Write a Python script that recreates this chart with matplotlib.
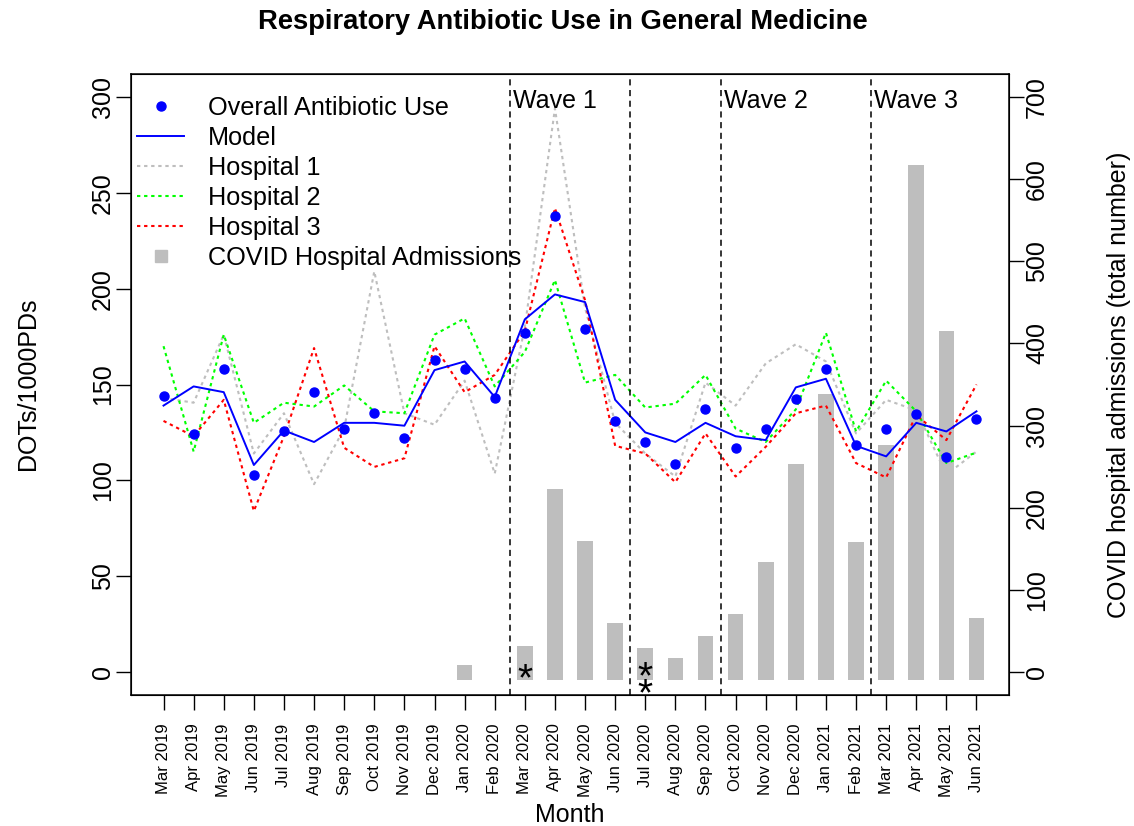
import numpy as np
import matplotlib
matplotlib.use("Agg")
import matplotlib.pyplot as plt
from matplotlib.lines import Line2D

plt.rcParams['font.family'] = ['Liberation Sans', 'DejaVu Sans']

months = ['Mar 2019', 'Apr 2019', 'May 2019', 'Jun 2019', 'Jul 2019', 'Aug 2019',
          'Sep 2019', 'Oct 2019', 'Nov 2019', 'Dec 2019', 'Jan 2020', 'Feb 2020',
          'Mar 2020', 'Apr 2020', 'May 2020', 'Jun 2020', 'Jul 2020', 'Aug 2020',
          'Sep 2020', 'Oct 2020', 'Nov 2020', 'Dec 2020', 'Jan 2021', 'Feb 2021',
          'Mar 2021', 'Apr 2021', 'May 2021', 'Jun 2021']

overall = [144, 124, 158, 103, 126, 146, 127, 135, 122, 163, 158, 143,
           177, 238, 179, 131, 120, 108.5, 137, 117, 127, 142.5, 158, 118.5,
           127, 134.5, 112, 132]
model = [139, 149, 146, 108, 126, 120, 130, 130, 128.5, 157.5, 162, 143.5,
         184, 197, 193, 142, 125, 120, 130, 123, 121, 148.5, 153, 118,
         112.5, 130, 125.5, 136]
hosp1 = [143, 140.5, 176, 114, 135, 98, 127, 209, 135, 129, 152, 103.5,
         180, 294, 190, 130, 114, 102, 151, 139, 161, 171, 162, 124.5,
         142, 136.5, 103, 115]
hosp2 = [170, 115, 176, 130, 140.5, 138.5, 149.5, 136, 135, 176, 184.5, 149,
         167, 204.5, 151, 155, 138, 140, 155, 127, 120, 137, 177, 125.5,
         152, 136, 109, 114.5]
hosp3 = [131, 123, 142, 84, 123, 169, 117, 107, 111.5, 170, 146, 155,
         178, 242, 194, 118, 114, 99, 124.5, 102, 117.5, 135, 139, 109,
         101.5, 134, 121, 150]
admissions = [0, 0, 0, 0, 0, 0, 0, 0, 0, 0, 9, 0,
              32, 223, 159, 60, 29, 17, 44, 71, 134, 253, 338, 158,
              276, 617, 415, 66]

# dashed lines fall between a month and the next one
wave_breaks = ['Feb 2020', 'Jun 2020', 'Sep 2020', 'Feb 2021']
wave_labels = {'Feb 2020': 'Wave 1', 'Sep 2020': 'Wave 2', 'Feb 2021': 'Wave 3'}

fig = plt.figure(figsize=(11.34, 8.26), dpi=100)
ax = fig.add_axes([131/1134, 131/826, 878/1134, 621/826])
ax2 = ax.twinx()
ax.set_zorder(ax2.get_zorder() + 1)
ax.patch.set_visible(False)

x = np.arange(len(months))
adm = np.array(admissions, dtype=float)
has = adm > 0
ax2.bar(x[has], adm[has] + 10, bottom=-10, width=0.52, color='#BEBEBE', zorder=1)
ax2.set_ylim(-28, 728)
ax2.set_yticks(range(0, 701, 100))
ax2.tick_params(axis='y', length=10.5, width=1, labelsize=18, labelrotation=90, pad=1)
for lab in ax2.get_yticklabels():
    lab.set_va('center')

dots = (0, (1.6, 1.8))
ax.plot(x, hosp1, color='#BEBEBE', ls=dots, lw=1.5)
ax.plot(x, hosp2, color='#00FF00', ls=dots, lw=1.5)
ax.plot(x, hosp3, color='#FF0000', ls=dots, lw=1.5)
ax.plot(x, model, color='#0000FF', lw=1.4)
ax.plot(x, overall, 'o', color='#0000FF', ms=6.5)

for m in wave_breaks:
    xb = months.index(m) + 0.5
    ax.axvline(xb, color='black', ls=(0, (4, 3)), lw=1.1)
    if m in wave_labels:
        ax.text(xb + 0.1, 298, wave_labels[m], fontsize=18, ha='left', va='center')

# significance marks near the zero line
ax.annotate('*', xy=(months.index('Mar 2020'), 0), xytext=(0, -13.5),
            textcoords='offset points', ha='center', va='baseline', fontsize=28)
for off in (-11.5, -23.8):
    ax.annotate('*', xy=(months.index('Jul 2020'), 0), xytext=(0, off),
                textcoords='offset points', ha='center', va='baseline', fontsize=28)

ax.set_xlim(-1.08, len(months) - 1 + 1.08)
ax.set_ylim(-12, 312)
ax.set_yticks(range(0, 301, 50))
ax.tick_params(axis='y', length=10.5, width=1, labelsize=18, labelrotation=90, pad=1)
for lab in ax.get_yticklabels():
    lab.set_va('center')
ax.set_xticks(x, months, rotation=90, fontsize=12)
ax.tick_params(axis='x', length=10.5, width=1, pad=10)
for sp in ax.spines.values():
    sp.set_linewidth(1.1)

handles = [
    Line2D([], [], ls='none', marker='o', color='#0000FF', ms=6.5),
    Line2D([], [], color='#0000FF', lw=1.4),
    Line2D([], [], color='#BEBEBE', ls=dots, lw=1.5),
    Line2D([], [], color='#00FF00', ls=dots, lw=1.5),
    Line2D([], [], color='#FF0000', ls=dots, lw=1.5),
    Line2D([], [], ls='none', marker='s', color='#BEBEBE', ms=8),
]
labels = ['Overall Antibiotic Use', 'Model', 'Hospital 1', 'Hospital 2',
          'Hospital 3', 'COVID Hospital Admissions']
ax.legend(handles, labels, loc='upper left', bbox_to_anchor=(0, 0.975),
          frameon=False, fontsize=18.2, handlelength=1.84, handletextpad=0.96,
          labelspacing=0.235, borderpad=0.25, borderaxespad=0)

fig.text(563/1134, 1 - 22/826, 'Respiratory Antibiotic Use in General Medicine',
         fontsize=19.7, fontweight='bold', ha='center', va='center')
fig.text(28/1134, 1 - 384/826, 'DOTs/1000PDs', fontsize=18, rotation=90,
         ha='center', va='center')
fig.text(1119/1134, 1 - 385/826, 'COVID hospital admissions (total number)',
         fontsize=18, rotation=90, ha='center', va='center')
fig.text(570/1134, 1 - 815/826, 'Month', fontsize=18, ha='center', va='center')

fig.savefig('out.png', dpi=100)
